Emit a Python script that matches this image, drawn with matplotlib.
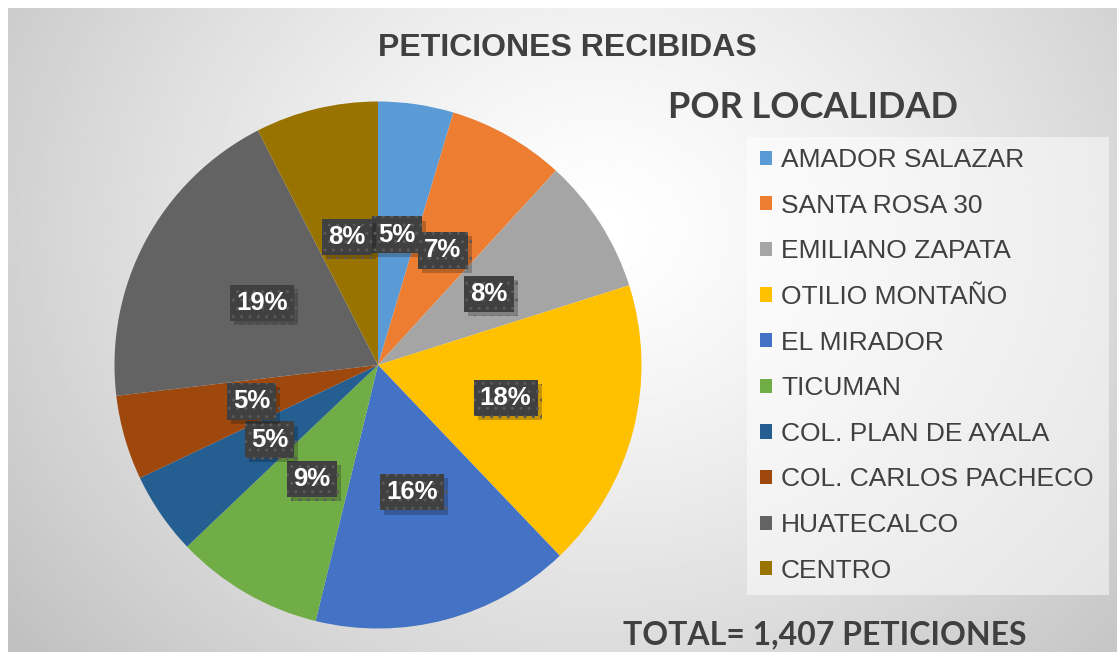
import numpy as np
import matplotlib
matplotlib.use("Agg")
import matplotlib.pyplot as plt
import matplotlib.patheffects as pe
from matplotlib.patches import Rectangle

# data (total 1,407 peticiones)
localidades = ["AMADOR SALAZAR", "SANTA ROSA 30", "EMILIANO ZAPATA", "OTILIO MONTAÑO",
               "EL MIRADOR", "TICUMAN", "COL. PLAN DE AYALA", "COL. CARLOS PACHECO",
               "HUATECALCO", "CENTRO"]
peticiones = [65, 101, 117, 250, 224, 128, 71, 73, 272, 106]
colores = ["#5B9BD5", "#ED7D31", "#A5A5A5", "#FFC000", "#4472C4",
           "#70AD47", "#255E91", "#9E480E", "#636363", "#997300"]
titulo = "PETICIONES RECIBIDAS"
subtitulo = "POR LOCALIDAD"
total_txt = "TOTAL= 1,407 PETICIONES"

W, H = 1117, 652
fig = plt.figure(figsize=(W / 100, H / 100), dpi=100, facecolor="white")

def fx(px):
    return px / W

def fy(py):
    return 1 - py / H

# radial gradient background of the chart area
bg = fig.add_axes([fx(8), 0, 1 - fx(8), fy(8)])
bg.set_axis_off()
gx, gy = np.meshgrid(np.linspace(8, W, 400), np.linspace(8, H, 240))
d = np.hypot(gx - 600, (gy - 230) * 1.15)
d = d / d.max()
shade = 1.0 - 0.25 * np.clip(d, 0, 1) ** 1.3
bg.imshow(shade, cmap="gray", vmin=0, vmax=1, aspect="auto",
          extent=[0, 1, 0, 1], interpolation="bilinear")
bg.set_xlim(0, 1)
bg.set_ylim(0, 1)

# pie
cx, cy, r = 378, 365, 263.5
ax = fig.add_axes([fx(cx - r), fy(cy + r), 2 * r / W, 2 * r / H])
wedges, _, autotexts = ax.pie(peticiones, colors=colores, startangle=90, counterclock=False,
                              autopct="%1.0f%%", pctdistance=0.5,
                              wedgeprops=dict(linewidth=0),
                              textprops=dict(color="white", fontsize=18.5, fontweight="bold",
                                             family="Liberation Sans"))
ax.set_xlim(-1, 1)
ax.set_ylim(-1, 1)

for t in autotexts:
    t.set_zorder(5)
    t.set_bbox(dict(boxstyle="square,pad=0.24", fc="#404040", ec="#5a5a5a", lw=0, hatch=".."))
    t.get_bbox_patch().set_path_effects([
        pe.SimplePatchShadow(offset=(3, -3), shadow_rgbFace="black", alpha=0.22),
        pe.Normal()])

# titles
fig.text(fx(567), fy(48), titulo, ha="center", va="center", fontsize=23,
         fontweight="bold", color="#404040", family="Liberation Sans")
fig.text(fx(813), fy(108), subtitulo, ha="center", va="center", fontsize=26,
         fontweight="bold", color="#404040", family="Lato")
fig.text(fx(825), fy(635), total_txt, ha="center", va="center", fontsize=23,
         fontweight="bold", color="#404040", family="Lato")

# legend panel
fig.add_artist(Rectangle((fx(747), fy(595)), fx(1109 - 747), (595 - 137) / H,
                         transform=fig.transFigure, fc="white", alpha=0.5, lw=0))
fig.legend(wedges, localidades, loc="upper left", bbox_to_anchor=(fx(760), fy(148)),
           frameon=False, prop=dict(family="Liberation Sans", size=19),
           labelcolor="#404040", handlelength=0.45, handleheight=0.45,
           handletextpad=0.35, labelspacing=0.82, borderpad=0, borderaxespad=0)

fig.savefig("out.png", dpi=100, facecolor="white")
